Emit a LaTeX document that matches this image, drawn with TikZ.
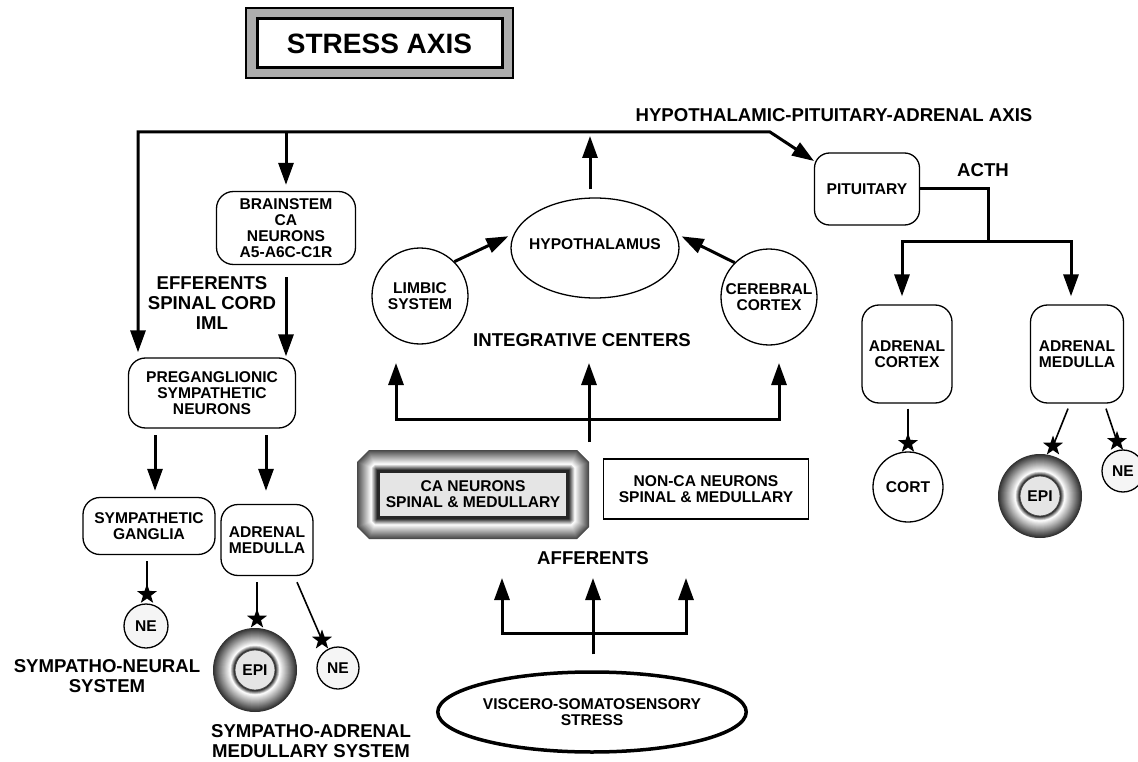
\documentclass[tikz,border=0pt]{standalone}
\usepackage{fontspec}
\setmainfont{Liberation Sans}
\usetikzlibrary{arrows.meta,shapes.geometric,calc}
\newcommand\nsz{\fontsize{15.6}{16.2}\selectfont\bfseries}
\newcommand\bsz{\fontsize{18.6}{20}\selectfont\bfseries}
\newcommand\tsz{\fontsize{28}{30}\selectfont\bfseries}
\begin{document}
\begin{tikzpicture}[x=1pt,y=-1pt,
  rbox/.style={draw, rounded corners=17pt, line width=1.3pt, align=center, inner sep=0pt, font=\nsz},
  circ/.style={draw, circle, line width=1.3pt, align=center, inner sep=0pt, font=\nsz},
  arr/.style={line width=3pt, -{Triangle[length=22pt,width=15pt]}},
  arrboth/.style={line width=3pt, {Triangle[length=22pt,width=15pt]}-{Triangle[length=22pt,width=15pt]}},
  bus/.style={line width=3pt},
  thinl/.style={line width=1.6pt},
  starn/.style={star, star points=5, star point ratio=2.5, fill=black, draw=none, inner sep=0pt, minimum size=21pt},
  lbl/.style={font=\bsz, align=center, inner sep=0pt}]
\useasboundingbox (0,0) rectangle (1138,762);
\fill[white] (0,0) rectangle (1138,762);

% title
\node[draw, line width=2pt, fill=black!32, minimum width=267pt, minimum height=70pt, inner sep=0pt] (titleO) at (379.5,43) {};
\node[draw, line width=3pt, fill=white, minimum width=245pt, minimum height=49pt, inner sep=0pt, font=\tsz] (title) at (379.5,43.5) {STRESS AXIS};

% boxes
\node[rbox, minimum width=139pt, minimum height=73pt] (brain) at (286,228) {BRAINSTEM\\CA\\NEURONS\\A5-A6C-C1R};
\node[rbox, minimum width=167pt, minimum height=70pt] (pregang) at (212,393) {PREGANGLIONIC\\SYMPATHETIC\\NEURONS};
\node[rbox, minimum width=132pt, minimum height=57pt] (sg) at (149,526) {SYMPATHETIC\\GANGLIA};
\node[rbox, minimum width=92pt, minimum height=71pt] (amL) at (267,540) {ADRENAL\\MEDULLA};
\node[rbox, rounded corners=15pt, minimum width=105pt, minimum height=72pt] (pit) at (867,189) {PITUITARY};
\node[rbox, minimum width=90pt, minimum height=98pt] (ac) at (907,354) {ADRENAL\\CORTEX};
\node[rbox, minimum width=93pt, minimum height=98pt] (amR) at (1077,354) {ADRENAL\\MEDULLA};

% integrative centres
\node[circ, minimum size=96pt] (limbic) at (420,296) {LIMBIC\\SYSTEM};
\node[circ, minimum size=96pt] (cereb) at (769,297) {CEREBRAL\\CORTEX};
\node[draw, ellipse, line width=1.3pt, minimum width=168pt, minimum height=100pt, inner sep=0pt, font=\nsz] (hyp) at (595,248) {};
\node[font=\nsz, inner sep=0pt] (hyptext) at (595,244) {HYPOTHALAMUS};

% CA neurons bevel box
\foreach \d in {0,0.5,...,21.5} {
  \pgfmathsetmacro\k{\d<14 ? 72-72*\d/14 : min(85,85*(\d-14)/6)}
  \pgfmathsetmacro\c{max(12-\d*0.6,0)}
  \fill[black!\k] (357+\d+\c,450+\d) -- (589-\d-\c,450+\d) -- (589-\d,450+\d+\c) -- (589-\d,539-\d-\c) -- (589-\d-\c,539-\d) -- (357+\d+\c,539-\d) -- (357+\d,539-\d-\c) -- (357+\d,450+\d+\c) -- cycle;
}
\node[draw=black!85, line width=1.5pt, fill=black!10, minimum width=188pt, minimum height=45pt, inner sep=0pt, align=center, font=\nsz] (ca) at (473,494.5) {CA NEURONS\\SPINAL \& MEDULLARY};
\node[draw, line width=1.3pt, minimum width=205pt, minimum height=60pt, inner sep=0pt, align=center, font=\nsz] (nonca) at (706,489) {NON-CA NEURONS\\SPINAL \& MEDULLARY};

\node[draw, ellipse, line width=3.5pt, minimum width=284pt, minimum height=80pt, inner sep=0pt, align=center, font=\nsz] (visc) at (592,712) {VISCERO-SOMATOSENSORY\\STRESS};

% output circles
\node[circ, minimum size=70pt] (cort) at (908,487) {CORT};
\node[circ, fill=black!4, minimum size=44pt] (neA) at (146,626) {NE};
\node[circ, fill=black!4, minimum size=42pt] (neB) at (338,668) {NE};
\node[circ, fill=black!4, minimum size=42pt] (neC) at (1123,471) {NE};

% EPI rings
\foreach \cx/\cy/\nm in {255/670/epiA, 1040/496/epiB} {
  \foreach \r in {42,41.5,...,20.5} {
    \pgfmathsetmacro\k{\r>25 ? 82*(\r-25)/17 : 80*(25-\r)/4}
    \fill[black!\k] (\cx,\cy) circle (\r pt);
  }
  \node[draw=black!70, line width=0.8pt, circle, fill=black!10, minimum size=40pt, inner sep=0pt, font=\nsz] (\nm) at (\cx,\cy) {EPI};
}

% labels
\node[lbl] (eff) at (212,303) {EFFERENTS\\SPINAL CORD\\IML};
\node[lbl] (hpa) at (834,115) {HYPOTHALAMIC-PITUITARY-ADRENAL AXIS};
\node[lbl] (acth) at (983,170) {ACTH};
\node[lbl] (integ) at (582,340) {INTEGRATIVE CENTERS};
\node[lbl] (aff) at (593,558) {AFFERENTS};
\node[lbl] (sns) at (107,676) {SYMPATHO-NEURAL\\SYSTEM};
\node[lbl] (sams) at (311,741) {SYMPATHO-ADRENAL\\MEDULLARY SYSTEM};

% top bus
\coordinate (busL) at (138,132);
\coordinate (busR) at (770,132);
\coordinate (busB) at (286,132);
\coordinate (pitTip) at (814,161);
\draw[arrboth] ($(busL |- pregang.north)+(0,-5)$) -- (busL) -- (busR) -- (pitTip);
\draw[arr] (busB) -- ($(brain.north)+(0,-6)$);
\draw[arr] ($(brain.south)+(0,12)$) -- ($(brain.south |- pregang.north)+(0,-1)$);

% preganglionic outputs
\coordinate (pgL) at (155,435);
\coordinate (pgR) at (266,435);
\draw[arr] (pgL) -- ($(pgL |- sg.north)+(0,-6)$);
\draw[arr] (pgR) -- ($(pgR |- amL.north)+(0,-13)$);

% hypothalamus links
\draw[arr, shorten >=6pt] (limbic.45) -- (hyp.170);
\draw[arr, shorten >=6pt] (cereb.135) -- (hyp.10);
\coordinate (hypTip) at (590,136);
\draw[arr] ($(hypTip |- hyp.north)+(0,-8)$) -- (hypTip);

% afferents to integrative centres
\coordinate (iStem) at (589,442);
\coordinate (iL) at (396,419);
\coordinate (iR) at (779,419);
\coordinate (iTipL) at (396,363);
\coordinate (iTipM) at (589,363);
\coordinate (iTipR) at (779,363);
\draw[arrboth] (iTipL) -- (iL) -- (iR) -- (iTipR);
\draw[arr] (iStem) -- (iTipM);

% afferents from stress
\coordinate (aStem) at ($(visc.north)+(1,-16)$);
\coordinate (aL) at (502,633);
\coordinate (aR) at (686,633);
\coordinate (aTipL) at (502,578);
\coordinate (aTipM) at ($(aStem |- aTipL)$);
\coordinate (aTipR) at (686,578);
\draw[arrboth] (aTipL) -- (aL) -- (aR) -- (aTipR);
\draw[arr] (aStem) -- (aTipM);

% ACTH branch
\coordinate (acthC) at (988,189);
\coordinate (acthJ) at (988,242);
\coordinate (acL) at (902,242);
\coordinate (acR) at (1071,242);
\draw[bus] (pit.east) -- (acthC) -- (acthJ);
\draw[arrboth] ($(acL |- ac.north)+(0,-8)$) -- (acL) -- (acR) -- ($(acR |- amR.north)+(0,-8)$);

% secretion lines with stars
\coordinate (sA) at ($(neA.north)+(1,-9)$);
\draw[thinl] ($(sg.south)+(-2,6)$) -- (sA);
\node[starn] at (sA) {};
\coordinate (sE) at ($(epiA.center)+(2,-51)$);
\draw[thinl] ($(amL.south)+(-10,6)$) -- (sE);
\node[starn] at (sE) {};
\coordinate (sB) at (322,640);
\draw[thinl] ($(amL.south)+(30,6)$) -- (sB);
\node[starn] at (sB) {};
\coordinate (sC) at ($(cort.north)+(0,-8)$);
\draw[thinl] ($(ac.south)+(1,5)$) -- (sC);
\node[starn] at (sC) {};
\coordinate (sE2) at ($(epiB.center)+(13,-50)$);
\draw[thinl] ($(amR.south)+(-9,5)$) -- (sE2);
\node[starn] at (sE2) {};
\coordinate (sN) at ($(neC.north)+(-6,-8)$);
\draw[thinl] ($(amR.south)+(29,5)$) -- (sN);
\node[starn] at (sN) {};
\end{tikzpicture}
\end{document}
